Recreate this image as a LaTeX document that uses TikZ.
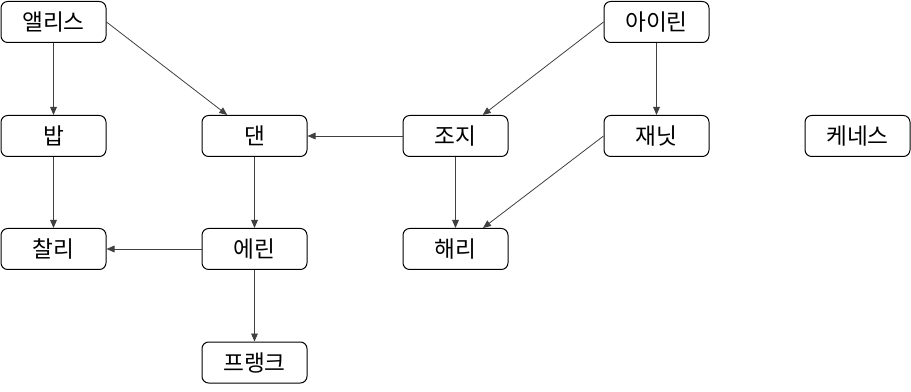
\documentclass[tikz,border=0pt]{standalone}
\usepackage{fontspec}
\setmainfont{Noto Sans CJK KR}
\usetikzlibrary{arrows.meta}
\begin{document}
\begin{tikzpicture}[x=0.75pt,y=-0.75pt,
  person/.style={draw=black,line width=0.75pt,rounded corners=5pt,
    minimum width=78.75pt,minimum height=30.75pt,inner sep=0pt,
    font=\fontsize{17pt}{20pt}\selectfont},
  link/.style={draw=black!75,line width=0.6pt,-{Triangle[length=6pt,width=5pt]}}]
\useasboundingbox (0,0) rectangle (911,392);
\node[person] (alice) at (53.5,22) {앨리스};
\node[person] (irene) at (656.5,22) {아이린};
\node[person] (bob) at (53.5,136) {밥};
\node[person] (dan) at (254.5,136) {댄};
\node[person] (george) at (455.5,136) {조지};
\node[person] (janet) at (656.5,136) {재닛};
\node[person] (kenneth) at (857.5,136) {케네스};
\node[person] (charlie) at (53.5,249) {찰리};
\node[person] (erin) at (254.5,249) {에린};
\node[person] (harry) at (455.5,249) {해리};
\node[person] (frank) at (254.5,362.5) {프랭크};
\draw[link] (alice) -- (bob);
\draw[link] (alice.east) -- (dan);
\draw[link] (irene.west) -- (george);
\draw[link] (irene) -- (janet);
\draw[link] (george) -- (dan);
\draw[link] (bob) -- (charlie);
\draw[link] (dan) -- (erin);
\draw[link] (george) -- (harry);
\draw[link] (janet.west) -- (harry);
\draw[link] (erin) -- (charlie);
\draw[link] (erin) -- (frank);
\end{tikzpicture}
\end{document}
